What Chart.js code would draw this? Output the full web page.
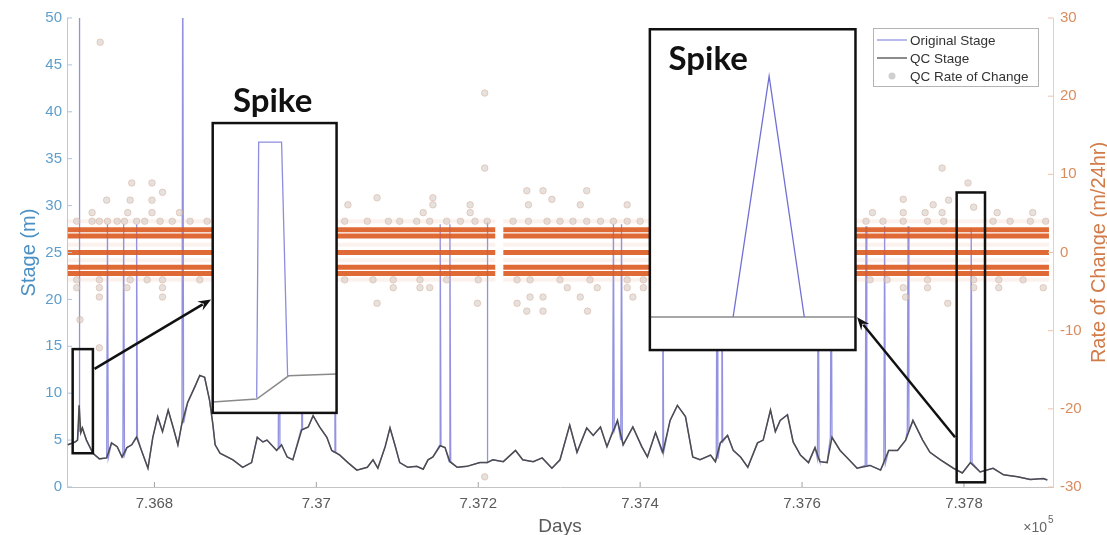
<!DOCTYPE html>
<html>
<head>
<meta charset="utf-8">
<script src="https://cdn.jsdelivr.net/npm/chart.js@4.4.1/dist/chart.umd.min.js"></script>
<style>
  html, body { margin: 0; padding: 0; background: #fff; }
  #wrap { width: 1107px; height: 535px; position: relative; }
</style>
</head>
<body>
<div id="wrap"><canvas id="c"></canvas></div>
<script>
// ── data (days are MATLAB datenums, axis shown ×10^5) ─────────────────────────
const X_TICKS = [736800, 737000, 737200, 737400, 737600, 737800]

const QC_DAYS = [
  736693, 736702, 736705, 736707, 736709, 736711, 736716, 736724, 736732, 736741,
  736747, 736754, 736760, 736766, 736772, 736778, 736784, 736792, 736798, 736804,
  736810, 736817, 736823, 736829, 736834, 736841, 736850, 736856, 736862, 736868,
  736872, 736875, 736881, 736897, 736909, 736920, 736927, 736934, 736939, 736951,
  736957, 736964, 736971, 736982, 736990, 736996, 737004, 737013, 737019, 737029,
  737039, 737050, 737063, 737070, 737076, 737085, 737091, 737097, 737103, 737113,
  737124, 737132, 737138, 737144, 737153, 737159, 737165, 737174, 737186, 737202,
  737211, 737218, 737231, 737246, 737255, 737268, 737279, 737291, 737301, 737313,
  737322, 737334, 737342, 737351, 737359, 737372, 737379, 737391, 737402, 737409,
  737419, 737428, 737437, 737446, 737456, 737465, 737474, 737487, 737493, 737499,
  737508, 737515, 737524, 737533, 737545, 737552, 737561, 737567, 737573, 737582,
  737589, 737598, 737608, 737616, 737622, 737631, 737637, 737647, 737656, 737668,
  737684, 737697, 737707, 737718, 737728, 737737, 737749, 737758, 737771, 737787,
  737798, 737808, 737820, 737836, 737849, 737866, 737882, 737898, 737903
]
const QC_STAGE = [
  4.5, 4.8, 5.0, 8.7, 5.8, 6.3, 5.0, 3.6, 3.0, 3.1,
  4.7, 4.3, 3.2, 4.2, 4.5, 5.3, 3.9, 2.0, 5.3, 7.5,
  5.9, 8.2, 6.4, 4.5, 6.8, 9.0, 10.7, 11.9, 11.7, 9.3,
  6.8, 4.5, 3.6, 2.9, 2.1, 2.6, 5.3, 4.8, 5.0, 3.9,
  4.5, 3.2, 2.9, 6.1, 6.4, 7.6, 6.4, 5.3, 3.9, 3.4,
  2.6, 1.8, 2.1, 2.9, 2.0, 4.3, 6.3, 4.5, 2.6, 2.1,
  2.2, 1.9, 2.9, 3.2, 4.4, 4.2, 2.7, 2.1, 2.2, 2.6,
  2.6, 2.9, 2.7, 3.9, 2.9, 2.7, 3.1, 2.0, 2.9, 6.6,
  3.7, 6.3, 5.5, 6.4, 4.3, 7.1, 4.5, 6.4, 4.3, 3.2,
  5.8, 3.7, 7.1, 8.7, 7.5, 3.2, 2.9, 3.4, 2.7, 4.7,
  5.5, 3.9, 3.2, 2.1, 4.7, 5.0, 8.2, 5.9, 7.1, 7.7,
  4.8, 3.4, 2.6, 4.2, 2.7, 2.6, 5.3, 3.9, 3.1, 2.0,
  2.3, 1.8, 3.9, 3.9, 5.0, 7.1, 5.0, 3.7, 2.9, 2.0,
  1.5, 2.6, 1.6, 2.0, 1.3, 1.1, 0.8, 0.9, 0.75
]

// spikes in the original (pre-QC) stage record
const SPIKE_DAYS = [736707, 736742, 736762, 736778, 736835, 736954, 736982, 737023, 737153, 737165, 737211,
                    737367, 737377, 737428, 737495, 737501, 737620, 737636, 737679, 737702, 737731, 737809]
const SPIKE_BASE = [6.0, 3.1, 3.4, 5.3, 6.8, 4.2, 6.1, 3.7, 4.4, 2.7, 2.6,
                    6.0, 5.0, 3.7, 3.0, 4.8, 3.0, 5.3, 2.3, 2.5, 6.0, 2.6]
const SPIKE_PEAK = [60, 28, 28, 28, 60, 28, 28, 28, 28, 28, 28.2,
                    28, 28, 28, 28, 28, 28, 28, 27.8, 27.8, 27.8, 27.6]

// QC rate of change: dense quantised bands + scattered values
const BAND_RATES = [2.9, 2.1, 0, -1.9, -2.7]
const FAINT_RATES = [4.0, 1.0, -1.0, -3.5]
const BAND_START = [736693, 737231]
const BAND_END   = [737221, 737905]

const ROC_DAYS = [
  736733, 737208, 737208, 737650, 737773, 737805, 736772, 736797, 736741, 736770,
  736797, 736810, 736723, 736767, 736797, 736831, 737039, 737075, 737132, 737144,
  737144, 737190, 737190, 737260, 737280, 737291, 737334, 737262, 737326, 737384,
  737725, 737762, 737781, 737812, 737687, 737725, 737752, 737773, 737841, 737885,
  736704, 736723, 736732, 736742, 736754, 736763, 736778, 736788, 736807, 736822,
  736844, 736865, 737035, 737063, 737089, 737103, 737124, 737140, 737161, 737178,
  737196, 737211, 737243, 737262, 737285, 737301, 737317, 737334, 737351, 737367,
  737384, 737400, 737679, 737700, 737725, 737755, 737775, 737836, 737857, 737882, 737901,
  736704, 736732, 736770, 736791, 736810, 736856, 737035, 737070, 737095, 737128,
  737161, 737200, 737248, 737264, 737301, 737338, 737384, 737404, 737684, 737705,
  737755, 737812, 737843, 737873,
  736704, 736732, 736766, 736810, 737095, 737128, 737140, 737310, 737347, 737384,
  737404, 737725, 737755, 737812, 737843, 737898,
  736732, 736810, 737264, 737280, 737326, 737391, 737728,
  737075, 737199, 737248, 737780, 737260, 737280, 737335,
  736708, 736732, 737208
]
const ROC_RATE = [
  26.9, 20.4, 10.8, 11.8, 10.8, 8.9, 8.9, 8.9, 6.7, 6.7,
  6.7, 7.7, 5.1, 5.1, 5.1, 5.1, 6.1, 7.0, 5.1, 7.0,
  6.1, 6.1, 5.1, 7.9, 7.9, 6.8, 7.9, 6.1, 6.1, 6.1,
  6.8, 6.1, 6.7, 5.8, 5.1, 5.1, 5.1, 5.1, 5.1, 5.1,
  4.0, 4.0, 4.0, 4.0, 4.0, 4.0, 4.0, 4.0, 4.0, 4.0,
  4.0, 4.0, 4.0, 4.0, 4.0, 4.0, 4.0, 4.0, 4.0, 4.0,
  4.0, 4.0, 4.0, 4.0, 4.0, 4.0, 4.0, 4.0, 4.0, 4.0,
  4.0, 4.0, 4.0, 4.0, 4.0, 4.0, 4.0, 4.0, 4.0, 4.0, 4.0,
  -3.5, -3.5, -3.5, -3.5, -3.5, -3.5, -3.5, -3.5, -3.5, -3.5,
  -3.5, -3.5, -3.5, -3.5, -3.5, -3.5, -3.5, -3.5, -3.5, -3.5,
  -3.5, -3.5, -3.5, -3.5,
  -4.5, -4.5, -4.5, -4.5, -4.5, -4.5, -4.5, -4.5, -4.5, -4.5,
  -4.5, -4.5, -4.5, -4.5, -4.5, -4.5,
  -5.7, -5.7, -5.7, -5.7, -5.7, -5.7, -5.7,
  -6.5, -6.5, -6.5, -6.5, -7.5, -7.5, -7.5,
  -8.6, -12.2, -28.7
]

// zoomed "Spike" insets: curves in inset-relative units (0..1)
const L_INSET_ORIG_U = [0.355, 0.371, 0.556, 0.605]
const L_INSET_ORIG_V = [0.052, 0.934, 0.934, 0.124]
const L_INSET_QC_U   = [0, 0.355, 0.613, 1]
const L_INSET_QC_V   = [0.038, 0.048, 0.128, 0.134]
const R_INSET_ORIG_U = [0.405, 0.580, 0.751]
const R_INSET_ORIG_V = [0.103, 0.854, 0.103]
const R_INSET_QC_U   = [0, 1]
const R_INSET_QC_V   = [0.103, 0.103]

// annotation placement, in data units (days, stage m)
const ANN = {
  lZoom:  { x0: 736699, x1: 736724, y0: 3.6, y1: 14.7 },
  rZoom:  { x0: 737791, x1: 737826, y0: 0.5, y1: 31.4 },
  lInset: { x0: 736872, x1: 737025, y0: 7.9, y1: 38.8 },
  rInset: { x0: 737412, x1: 737666, y0: 14.6, y1: 48.8 },
  lArrow: [736726, 12.6, 736870, 20.0],
  rArrow: [737789, 5.3, 737668, 18.1],
  lText:  [736946, 40.0, 'center'],
  rText:  [737435, 44.5, 'left'],
}

// ── build datasets ───────────────────────────────────────────────────────────
const FONT = "'Liberation Sans', Arial, Helvetica, sans-serif"
const ORIG_COLOR = 'rgba(110,110,214,0.75)'
const QC_COLOR   = '#4c4c4c'

const qcPts = QC_DAYS.map((d, i) => ({ x: d, y: QC_STAGE[i] }))
const origPts = qcPts.concat(SPIKE_DAYS.flatMap((d, i) => [
  { x: d - 1, y: SPIKE_BASE[i] }, { x: d, y: SPIKE_PEAK[i] }, { x: d + 1, y: SPIKE_BASE[i] },
])).sort((a, b) => a.x - b.x)

function bandData(v) {
  return BAND_START.flatMap((s, i) => [{ x: s, y: v }, { x: BAND_END[i], y: v }, { x: BAND_END[i] + 1, y: null }])
}

const bandSets = BAND_RATES.map(v => ({
  label: '', data: bandData(v), yAxisID: 'y2', order: 1,
  borderColor: 'rgba(220,90,32,0.9)', borderWidth: 5, pointRadius: 0, spanGaps: false,
}))
const faintSets = FAINT_RATES.map(v => ({
  label: '', data: bandData(v), yAxisID: 'y2', order: 1,
  borderColor: 'rgba(225,160,130,0.14)', borderWidth: 4, pointRadius: 0, spanGaps: false,
}))

// ── overlay: inward ticks, right title, ×10^5, insets, legend ───────────────
const overlay = {
  id: 'overlay',
  afterDraw(chart) {
    const { ctx, chartArea: a, scales: { x, y, y2 } } = chart
    const px = d => x.getPixelForValue(d)
    const py = v => y.getPixelForValue(v)
    ctx.save()

    // MATLAB style ticks pointing inwards
    ctx.lineWidth = 1
    ctx.strokeStyle = '#a0a0a0'
    x.ticks.forEach(t => { const X = px(t.value); ctx.beginPath(); ctx.moveTo(X, a.bottom); ctx.lineTo(X, a.bottom - 5); ctx.stroke() })
    ctx.strokeStyle = '#a9c6dc'
    y.ticks.forEach(t => { const Y = py(t.value); ctx.beginPath(); ctx.moveTo(a.left, Y); ctx.lineTo(a.left + 5, Y); ctx.stroke() })
    ctx.strokeStyle = '#ebc3a8'
    y2.ticks.forEach(t => { const Y = y2.getPixelForValue(t.value); ctx.beginPath(); ctx.moveTo(a.right, Y); ctx.lineTo(a.right - 5, Y); ctx.stroke() })

    // right axis title reads bottom-to-top like MATLAB
    ctx.save()
    ctx.translate(1099, (a.top + a.bottom) / 2)
    ctx.rotate(-Math.PI / 2)
    ctx.font = `20px ${FONT}`
    ctx.fillStyle = '#d27b48'
    ctx.textAlign = 'center'; ctx.textBaseline = 'middle'
    ctx.fillText('Rate of Change (m/24hr)', 0, 0)
    ctx.restore()

    // exponent label
    ctx.fillStyle = '#666'
    ctx.textBaseline = 'alphabetic'
    ctx.textAlign = 'right'
    ctx.font = `14px ${FONT}`
    ctx.fillText('×10', a.right - 6, 532)
    ctx.textAlign = 'left'
    ctx.font = `10px ${FONT}`
    ctx.fillText('5', a.right - 5, 523)

    // boxes and arrows
    const rect = b => [px(b.x0), py(b.y1), px(b.x1) - px(b.x0), py(b.y0) - py(b.y1)]
    ctx.strokeStyle = '#111'; ctx.fillStyle = '#111'; ctx.lineWidth = 2.5
    ctx.strokeRect(...rect(ANN.lZoom))
    ctx.strokeRect(...rect(ANN.rZoom))

    function arrow([x0, y0, x1, y1]) {
      const X0 = px(x0), Y0 = py(y0), X1 = px(x1), Y1 = py(y1)
      const ang = Math.atan2(Y1 - Y0, X1 - X0), h = 14
      ctx.beginPath(); ctx.moveTo(X0, Y0)
      ctx.lineTo(X1 - Math.cos(ang) * h * 0.7, Y1 - Math.sin(ang) * h * 0.7); ctx.stroke()
      ctx.beginPath(); ctx.moveTo(X1, Y1)
      ctx.lineTo(X1 - h * Math.cos(ang - 0.38), Y1 - h * Math.sin(ang - 0.38))
      ctx.lineTo(X1 - h * 0.6 * Math.cos(ang), Y1 - h * 0.6 * Math.sin(ang))
      ctx.lineTo(X1 - h * Math.cos(ang + 0.38), Y1 - h * Math.sin(ang + 0.38))
      ctx.closePath(); ctx.fill()
    }
    arrow(ANN.lArrow)
    arrow(ANN.rArrow)

    function inset(b, curves) {
      const [l, t, w, hgt] = rect(b)
      ctx.fillStyle = '#fff'; ctx.fillRect(l, t, w, hgt)
      curves.forEach(c => {
        ctx.beginPath()
        c.u.forEach((u, i) => {
          const X = l + u * w, Y = t + hgt - c.v[i] * hgt
          i ? ctx.lineTo(X, Y) : ctx.moveTo(X, Y)
        })
        ctx.strokeStyle = c.color; ctx.lineWidth = c.width; ctx.stroke()
      })
      ctx.strokeStyle = '#111'; ctx.lineWidth = 2.5; ctx.strokeRect(l, t, w, hgt)
    }
    inset(ANN.lInset, [
      { u: L_INSET_QC_U, v: L_INSET_QC_V, color: '#8a8a8a', width: 1.5 },
      { u: L_INSET_ORIG_U, v: L_INSET_ORIG_V, color: '#8d8dde', width: 1.3 },
    ])
    inset(ANN.rInset, [
      { u: R_INSET_QC_U, v: R_INSET_QC_V, color: '#8a8a8a', width: 1.5 },
      { u: R_INSET_ORIG_U, v: R_INSET_ORIG_V, color: '#7070d4', width: 1.3 },
    ])

    ctx.fillStyle = '#111'
    ctx.font = `bold 33px Lato, 'Open Sans', sans-serif`
    ctx.textBaseline = 'alphabetic'
    ;[ANN.lText, ANN.rText].forEach(([d, v, al]) => { ctx.textAlign = al; ctx.fillText('Spike', px(d), py(v)) })

    // legend
    const lx = a.right - 180, ly = a.top + 10, lw = 165, lh = 58
    ctx.fillStyle = '#fff'; ctx.fillRect(lx, ly, lw, lh)
    ctx.strokeStyle = '#b4b4b4'; ctx.lineWidth = 1; ctx.strokeRect(lx + 0.5, ly + 0.5, lw, lh)
    const ds = chart.data.datasets
    ctx.font = `13.5px ${FONT}`; ctx.textAlign = 'left'; ctx.textBaseline = 'middle'
    ;[0, 1, 2].forEach((k, i) => {
      const Y = ly + 12 + i * 18
      if (k < 2) {
        ctx.strokeStyle = ds[k].borderColor; ctx.lineWidth = 1.3
        ctx.beginPath(); ctx.moveTo(lx + 4, Y); ctx.lineTo(lx + 34, Y); ctx.stroke()
      } else {
        ctx.beginPath(); ctx.arc(lx + 19, Y, 3.5, 0, Math.PI * 2)
        ctx.fillStyle = '#cfcfcf'; ctx.fill()
      }
      ctx.fillStyle = '#333'
      ctx.fillText(ds[k].label, lx + 37, Y + 1)
    })
    ctx.restore()
  }
}

// ── chart ────────────────────────────────────────────────────────────────────
new Chart(document.getElementById('c'), {
  type: 'line',
  data: {
    datasets: [
      { label: 'Original Stage', data: origPts, yAxisID: 'y', order: 3,
        borderColor: ORIG_COLOR, borderWidth: 1.3, pointRadius: 0 },
      { label: 'QC Stage', data: qcPts, yAxisID: 'y', order: 2,
        borderColor: QC_COLOR, borderWidth: 1.5, pointRadius: 0 },
      { label: 'QC Rate of Change', data: ROC_DAYS.map((d, i) => ({ x: d, y: ROC_RATE[i] })),
        yAxisID: 'y2', order: 0, showLine: false, pointRadius: 3.3, borderWidth: 1,
        backgroundColor: 'rgba(205,200,196,0.55)', borderColor: 'rgba(220,165,135,0.45)' },
      ...faintSets,
      ...bandSets,
    ],
  },
  options: {
    responsive: true, maintainAspectRatio: false, animation: false,
    layout: { padding: { top: 18 } },
    plugins: { legend: { display: false }, tooltip: { enabled: false } },
    scales: {
      x: {
        type: 'linear', min: 736692, max: 737910,
        afterBuildTicks: s => { s.ticks = X_TICKS.map(v => ({ value: v })) },
        afterFit: s => { s.height = 48 },
        grid: { display: false, drawTicks: false },
        border: { display: true, color: '#c4c4c4' },
        ticks: { padding: 8, color: '#5a5a5a', font: { family: FONT, size: 15 },
                 callback: v => String(+(v / 1e5).toFixed(4)) },
        title: { display: true, text: 'Days', color: '#5a5a5a', font: { family: FONT, size: 19 },
                 padding: { top: 0, bottom: -3 } },
      },
      y: {
        position: 'left', min: 0, max: 50,
        afterFit: s => { s.width = 67 },
        grid: { display: false, drawTicks: false },
        border: { display: true, color: '#b3cde0' },
        ticks: { stepSize: 5, padding: 5, color: '#5f9ecb', font: { family: FONT, size: 15 } },
        title: { display: true, text: 'Stage (m)', color: '#4a90c4', font: { family: FONT, size: 20 },
                 padding: { top: 17, bottom: 0 } },
      },
      y2: {
        position: 'right', min: -30, max: 30,
        afterFit: s => { s.width = 54 },
        grid: { display: false, drawTicks: false },
        border: { display: true, color: '#efcdb6' },
        ticks: { stepSize: 10, padding: 7, color: '#da8c5e', font: { family: FONT, size: 15 } },
      },
    },
  },
  plugins: [overlay],
})
</script>
</body>
</html>
